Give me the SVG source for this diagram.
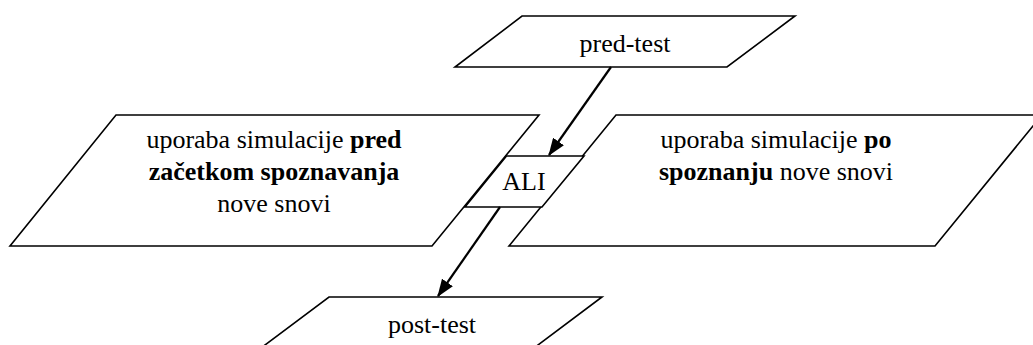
<svg xmlns="http://www.w3.org/2000/svg" width="1033" height="345" viewBox="0 0 1033 345">
<style>
.shape{fill:#fff;stroke:#000;stroke-width:1.6;stroke-linejoin:miter}
text{font-family:'Liberation Serif','Times New Roman',Times,'Nimbus Roman','DejaVu Serif',serif;font-size:26px;fill:#000;text-anchor:middle}
.b{font-weight:bold}
.conn{stroke:#000;stroke-width:2.2;fill:none}
</style>
<defs>
<marker id="arr" markerWidth="8" markerHeight="6" refX="7.5" refY="3" orient="auto" markerUnits="strokeWidth">
<path d="M0,0 L8,3 L0,6 Z" fill="#000"/>
</marker>
</defs>
<rect width="1033" height="345" fill="#fff"/>
<g id="pred-test">
<polygon class="shape" points="522,16 795,16 727,67 455,67"/>
<text font-family="Liberation Serif, serif" x="625" y="52">pred-test</text>
</g>
<g id="before">
<polygon class="shape" points="116,115 539,115 432,246 10,246"/>
<text font-family="Liberation Serif, serif" x="274" y="148">uporaba simulacije <tspan class="b">pred</tspan></text>
<text font-family="Liberation Serif, serif" class="b" x="274" y="180">začetkom spoznavanja</text>
<text font-family="Liberation Serif, serif" x="274" y="212">nove snovi</text>
</g>
<g id="after">
<polygon class="shape" points="616,115 1042,115 935,246 509,246"/>
<text font-family="Liberation Serif, serif" x="776" y="148">uporaba simulacije <tspan class="b">po</tspan></text>
<text font-family="Liberation Serif, serif" x="776" y="180"><tspan class="b">spoznanju</tspan> nove snovi</text>
</g>
<g id="ali">
<polygon class="shape" points="506.5,156 584,156 542,207 465,207"/>
<text font-family="Liberation Serif, serif" x="524" y="190">ALI</text>
</g>
<g id="post-test">
<polygon class="shape" points="329,297 602,297 534,348 261,348"/>
<text font-family="Liberation Serif, serif" x="432" y="333">post-test</text>
</g>
<g id="connectors">
<line class="conn" x1="611" y1="67" x2="549" y2="155" marker-end="url(#arr)"/>
<line class="conn" x1="500" y1="207" x2="438" y2="296" marker-end="url(#arr)"/>
</g>
</svg>
